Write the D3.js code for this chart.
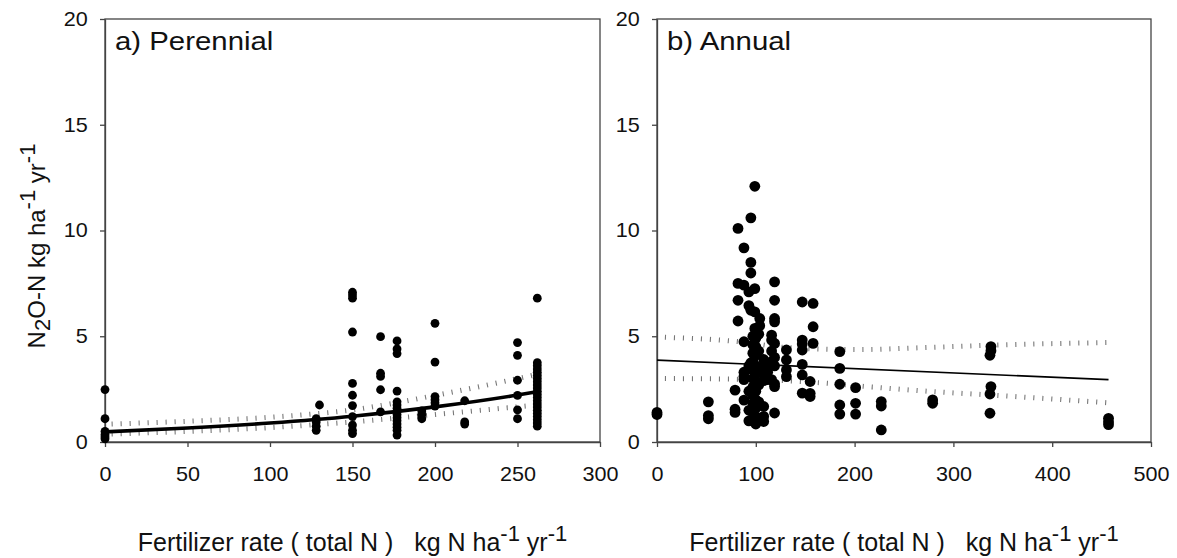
<!DOCTYPE html>
<html>
<head>
<meta charset="utf-8">
<script src="https://cdnjs.cloudflare.com/ajax/libs/d3/7.8.5/d3.min.js"></script>
<style>
body { margin: 0; background: #fff; }
svg { font-family: "Liberation Sans", Arial, sans-serif; }
text { white-space: pre; }
</style>
</head>
<body>
<svg id="chart" width="1177" height="558"></svg>
<script>
// tick values
let yTicks = [0, 5, 10, 15, 20];
let xTicksA = [0, 50, 100, 150, 200, 250, 300];
let xTicksB = [0, 100, 200, 300, 400, 500];

// a) Perennial : [fertilizer rate, N2O-N]
let perennialPoints = [
    [0, 2.48], [0, 1.1], [0, 0.5], [0, 0.35], [0, 0.25], [0, 0.15],
    [128, 0.55], [128, 0.75], [128, 0.95], [128, 1.1], [130, 1.75],
    [150, 7.08], [150, 6.95], [150, 6.8], [150, 5.2], [150, 2.77], [150, 2.21], [150, 1.72], [150, 1.2], [150, 0.8], [150, 0.55], [150, 0.4],
    [167, 4.98], [167, 3.25], [167, 3.1], [167, 2.47], [167, 1.42],
    [177, 4.78], [177, 4.4], [177, 4.18], [177, 2.41], [177, 1.9], [177, 1.75], [177, 1.6], [177, 1.45], [177, 1.3], [177, 1.15], [177, 1.0], [177, 0.85], [177, 0.7], [177, 0.55], [177, 0.33],
    [192, 1.47], [192, 1.3], [192, 1.1],
    [200, 5.61], [200, 3.78], [200, 2.15], [200, 2.0], [200, 1.85], [200, 1.7],
    [218, 1.95], [218, 0.95], [218, 0.85],
    [250, 4.7], [250, 4.1], [250, 2.92], [250, 2.2], [250, 1.52], [250, 1.1],
    [262, 6.8], [262, 3.75], [262, 3.6], [262, 3.45], [262, 3.3], [262, 3.15], [262, 3.0], [262, 2.85], [262, 2.7], [262, 2.55], [262, 2.4],
    [262, 2.25], [262, 2.1], [262, 1.95], [262, 1.8], [262, 1.65], [262, 1.5], [262, 1.35], [262, 1.2], [262, 1.05], [262, 0.9], [262, 0.75]
];
let perennialFit = [[0, 0.48], [50, 0.66], [100, 0.9], [150, 1.22], [200, 1.66], [250, 2.22], [262, 2.38]];
let perennialUpper = [[4, 0.85], [50, 0.98], [100, 1.17], [150, 1.52], [200, 2.2], [262, 3.2]];
let perennialLower = [[4, 0.38], [50, 0.5], [100, 0.68], [150, 0.95], [200, 1.3], [262, 1.75]];

// b) Annual
let annualPoints = [
    [0, 1.4], [0, 1.3],
    [52, 1.9], [52, 1.25], [52, 1.1],
    [79, 2.45], [79, 1.55], [79, 1.4],
    [82, 10.1], [82, 7.5], [82, 6.7], [82, 5.72],
    [88, 9.18], [88, 7.42], [88, 4.74], [88, 3.3], [88, 3.1], [88, 2.95], [88, 1.98],
    [93, 7.1], [93, 6.45], [93, 3.6], [93, 2.4], [93, 1.5], [93, 1.0],
    [95, 10.6], [95, 8.49], [95, 7.99], [95, 6.23], [95, 3.74],
    [99, 12.09], [99, 7.25], [99, 6.15], [99, 5.37],
    [104, 5.84], [104, 5.5],
    [97, 5.0], [97, 4.6], [97, 4.2], [97, 3.8], [97, 3.4], [97, 3.0], [97, 2.6], [97, 2.2], [97, 1.8], [97, 1.4], [97, 1.0],
    [100, 4.9], [100, 4.5], [100, 4.1], [100, 3.6], [100, 3.2], [100, 2.8], [100, 2.4], [100, 2.0], [100, 1.6], [100, 1.2], [100, 0.85],
    [103, 5.1], [103, 4.3], [103, 3.5], [103, 2.7], [103, 1.9], [103, 1.1],
    [108, 3.9], [108, 3.5], [108, 3.2], [108, 2.9], [108, 1.68], [108, 1.21], [108, 0.97],
    [112, 3.7], [112, 3.3], [112, 2.95],
    [116, 5.05], [116, 4.82], [116, 4.3], [116, 3.8], [116, 2.95],
    [119, 7.57], [119, 6.7], [119, 5.84], [119, 5.68], [119, 4.66], [119, 4.0], [119, 3.6], [119, 2.75], [119, 2.62], [119, 1.37],
    [131, 4.35], [131, 3.88], [131, 3.41], [131, 3.09],
    [147, 6.62], [147, 4.82], [147, 4.63], [147, 4.35], [147, 3.67], [147, 3.17], [147, 2.31],
    [158, 6.55], [158, 5.45], [158, 4.66], [155, 2.86], [155, 2.3], [155, 2.15],
    [185, 4.27], [185, 3.48], [185, 2.73], [185, 1.75], [185, 1.32],
    [201, 2.57], [201, 1.83], [201, 1.32],
    [227, 1.91], [227, 1.7], [227, 0.57],
    [279, 1.99], [279, 1.83],
    [338, 4.51], [338, 4.32], [337, 4.1], [338, 2.62], [337, 2.27], [337, 1.36],
    [457, 1.12], [457, 0.96], [457, 0.82]
];
let annualFit = [[0, 3.87], [457, 2.95]];
let annualUpper = [[8, 4.95], [84, 4.74], [130, 4.47], [200, 4.37], [280, 4.48], [340, 4.58], [455, 4.7]];
let annualLower = [[8, 3.0], [84, 2.97], [165, 2.8], [212, 2.62], [280, 2.38], [338, 2.22], [455, 1.86]];

let svg = d3.select("#chart");
let top_y = 19, bottom_y = 442;
let textColor = "#111";
let axisColor = "#444";
let SX = 1.08;   // the original figure is a bit stretched sideways

function draw_panel(cfg) {
    let g = svg.append("g");

    let xScale = d3.scaleLinear().domain(cfg.domain).range([cfg.left, cfg.right]);
    let yScale = d3.scaleLinear().domain([0, 20]).range([bottom_y, top_y]);

    // frame
    g.append("rect")
        .attr("x", cfg.left).attr("y", top_y)
        .attr("width", cfg.right - cfg.left).attr("height", bottom_y - top_y)
        .attr("fill", "none").attr("stroke", axisColor).attr("stroke-width", 1.3);

    let xAxis = g.append("g")
        .attr("transform", "translate(0," + bottom_y + ")")
        .call(d3.axisBottom(xScale).tickValues(cfg.xTicks).tickSize(5).tickSizeOuter(0).tickPadding(20));
    let yAxis = g.append("g")
        .attr("transform", "translate(" + cfg.left + ",0)")
        .call(d3.axisLeft(yScale).tickValues(yTicks).tickSize(5).tickSizeOuter(0).tickPadding(11));

    [xAxis, yAxis].forEach(function(ax) {
        ax.select(".domain").attr("stroke", axisColor).attr("stroke-width", 1.3);
        ax.selectAll(".tick line").attr("stroke", axisColor).attr("stroke-width", 1.3);
        ax.selectAll(".tick text")
          .attr("fill", textColor)
          .style("font-size", "20px")
          .style("font-family", "'Liberation Sans', Arial, sans-serif")
          .attr("transform", "scale(" + SX + ",1)");
    });

    let line = d3.line()
        .x(d => xScale(d[0]))
        .y(d => yScale(d[1]))
        .curve(d3.curveMonotoneX);

    // confidence bands (dotted)
    [cfg.upper, cfg.lower].forEach(function(band) {
        g.append("path")
            .datum(band)
            .attr("d", line)
            .attr("fill", "none")
            .attr("stroke", "#777")
            .attr("stroke-width", 5)
            .attr("stroke-dasharray", "1.1,7.9");
    });

    // regression line
    g.append("path")
        .datum(cfg.fit)
        .attr("d", line)
        .attr("fill", "none")
        .attr("stroke", "#000")
        .attr("stroke-width", cfg.fitWidth);

    // points
    g.selectAll("circle.pt")
        .data(cfg.points)
        .enter().append("circle")
        .attr("class", "pt")
        .attr("cx", d => xScale(d[0]))
        .attr("cy", d => yScale(d[1]))
        .attr("r", cfg.radius)
        .attr("fill", "#000");

    // panel label
    g.append("text")
        .attr("transform", "translate(" + (cfg.left + 10) + ",50) scale(1.13,1)")
        .attr("fill", textColor)
        .style("font-size", "26px")
        .text(cfg.label);

    // x title
    let xt = g.append("text")
        .attr("transform", "translate(" + ((cfg.left + cfg.right) / 2) + ",551)")
        .attr("text-anchor", "middle")
        .attr("fill", textColor)
        .style("font-size", "25px");
    xt.append("tspan").text("Fertilizer rate ( total N )   kg N ha");
    xt.append("tspan").attr("dy", -10).style("font-size", "22px").text("-1");
    xt.append("tspan").attr("dy", 10).text(" yr");
    xt.append("tspan").attr("dy", -10).style("font-size", "22px").text("-1");
}

function draw_ytitle() {
    let t = svg.append("text")
        .attr("transform", "translate(45,246) rotate(-90)")
        .attr("text-anchor", "middle")
        .attr("fill", textColor)
        .style("font-size", "24px");
    t.append("tspan").text("N");
    t.append("tspan").attr("dy", 5).style("font-size", "22px").text("2");
    t.append("tspan").attr("dy", -5).text("O-N kg ha");
    t.append("tspan").attr("dy", -10).style("font-size", "22px").text("-1");
    t.append("tspan").attr("dy", 10).text(" yr");
    t.append("tspan").attr("dy", -10).style("font-size", "22px").text("-1");
}

function main() {
    draw_panel({
        left: 105, right: 600, domain: [0, 300], xTicks: xTicksA,
        points: perennialPoints, fit: perennialFit, upper: perennialUpper, lower: perennialLower,
        radius: 4.4, fitWidth: 3.6, label: "a) Perennial"
    });
    draw_panel({
        left: 657, right: 1151, domain: [0, 500], xTicks: xTicksB,
        points: annualPoints, fit: annualFit, upper: annualUpper, lower: annualLower,
        radius: 5.4, fitWidth: 1.6, label: "b) Annual"
    });
    draw_ytitle();
}

main();
</script>
</body>
</html>
